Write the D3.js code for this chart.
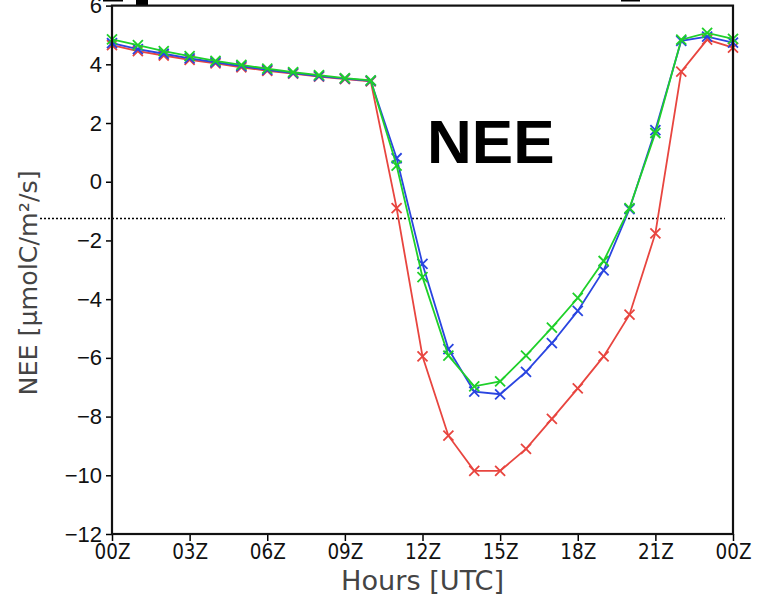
<!DOCTYPE html>
<html>
<head>
<meta charset="utf-8">
<script src="https://cdn.jsdelivr.net/npm/d3@7"></script>
<style>
  body { margin: 0; background: #fff; }
  svg { display: block; }
</style>
</head>
<body>
<div id="chart"></div>
<script>
// hourly values, 00Z .. 00Z next day
var hours = d3.range(0, 25);
var redVals = [4.65, 4.45, 4.3, 4.15, 4.03, 3.9, 3.78, 3.68, 3.58, 3.5, 3.42,
  -0.9, -5.95, -8.65, -9.85, -9.85, -9.1, -8.08, -7.04, -5.95, -4.53, -1.76, 3.75, 4.84, 4.57];
var blueVals = [4.72, 4.52, 4.36, 4.2, 4.07, 3.94, 3.81, 3.7, 3.6, 3.51, 3.44,
  0.8, -2.8, -5.7, -7.15, -7.24, -6.48, -5.5, -4.4, -3.02, -0.93, 1.76, 4.8, 4.94, 4.74];
var greenVals = [4.85, 4.65, 4.45, 4.28, 4.12, 3.98, 3.85, 3.73, 3.63, 3.53, 3.45,
  0.55, -3.25, -5.92, -6.97, -6.8, -5.92, -4.97, -3.96, -2.7, -0.9, 1.66, 4.84, 5.07, 4.87];
var threshold = -1.25;
var xTicks = [0, 3, 6, 9, 12, 15, 18, 21, 24];
var xTickLabels = ["00Z", "03Z", "06Z", "09Z", "12Z", "15Z", "18Z", "21Z", "00Z"];
var yTicks = [-12, -10, -8, -6, -4, -2, 0, 2, 4, 6];

var series = [
  {name: "red", values: redVals, color: "#e8453f"},
  {name: "blue", values: blueVals, color: "#2a45e0"},
  {name: "green", values: greenVals, color: "#1fd02a"}
];

var W = 761, H = 606;
var margin = {top: 5.6, right: 28, bottom: 72, left: 112};
var width = 733 - margin.left,
    height = 534 - margin.top;

var condensed = "'DejaVu Sans Condensed', 'DejaVu Sans', sans-serif";

var svg = d3.select("#chart").append("svg")
    .attr("width", W)
    .attr("height", H);

// clipped bits of the panel above
svg.append("rect").attr("x", 103).attr("y", 0).attr("width", 20).attr("height", 1.5).attr("fill", "#000");
svg.append("rect").attr("x", 136).attr("y", 0).attr("width", 12).attr("height", 6).attr("fill", "#000");
svg.append("rect").attr("x", 621).attr("y", 0).attr("width", 19).attr("height", 1.5).attr("fill", "#000");

var g = svg.append("g")
    .attr("transform", "translate(" + margin.left + "," + margin.top + ")");

var x = d3.scaleLinear().domain([0, 24]).range([0, width]);
var y = d3.scaleLinear().domain([-12, 6]).range([height, 0]);

// dotted reference line
g.append("line")
    .attr("x1", -72).attr("x2", width - 8)
    .attr("y1", y(threshold)).attr("y2", y(threshold))
    .attr("stroke", "#000")
    .attr("stroke-width", 1.6)
    .attr("stroke-dasharray", "2,2");

// axes
var yAxis = g.append("g")
    .call(d3.axisLeft(y).tickValues(yTicks).tickSize(6).tickPadding(4)
      .tickFormat(function(d){ return d < 0 ? "\u2212" + Math.abs(d) : d; }));
yAxis.select(".domain").remove();
yAxis.selectAll("line").attr("stroke-width", 1.5);
yAxis.selectAll("text")
    .attr("font-family", "Liberation Sans, Arial, sans-serif")
    .attr("font-size", "22px")
    .attr("fill", "#111");

var xAxis = g.append("g")
    .attr("transform", "translate(0," + height + ")")
    .call(d3.axisBottom(x).tickValues(xTicks).tickSize(7).tickPadding(2)
      .tickFormat(function(d, i){ return xTickLabels[i]; }));
xAxis.select(".domain").remove();
xAxis.selectAll("line").attr("stroke-width", 1.5);
xAxis.selectAll("text")
    .style("font-family", condensed)
    .style("font-stretch", "condensed")
    .attr("font-size", "22px")
    .attr("textLength", 36)
    .attr("lengthAdjust", "spacingAndGlyphs")
    .attr("fill", "#111");

// lines + x markers
var line = d3.line()
    .x(function(d, i){ return x(hours[i]); })
    .y(function(d){ return y(d); });

var ms = 5;
series.forEach(function(s) {
  g.append("path")
      .datum(s.values)
      .attr("fill", "none")
      .attr("stroke", s.color)
      .attr("stroke-width", 1.8)
      .attr("d", line);

  g.selectAll(".m-" + s.name)
    .data(s.values)
    .enter()
    .append("path")
      .attr("class", "m-" + s.name)
      .attr("d", function(d, i) {
        var cx = x(hours[i]), cy = y(d);
        return "M" + (cx - ms) + "," + (cy - ms) + "L" + (cx + ms) + "," + (cy + ms) +
               "M" + (cx - ms) + "," + (cy + ms) + "L" + (cx + ms) + "," + (cy - ms);
      })
      .attr("stroke", s.color)
      .attr("stroke-width", 1.8)
      .attr("fill", "none");
});

// frame
g.append("rect")
    .attr("x", 0).attr("y", 0)
    .attr("width", width).attr("height", height)
    .attr("fill", "none")
    .attr("stroke", "#111")
    .attr("stroke-width", 2.2);

// panel title
g.append("text")
    .attr("x", 427 - margin.left)
    .attr("y", 163 - margin.top)
    .text("NEE")
    .attr("font-family", "Liberation Sans, Arial, sans-serif")
    .attr("font-weight", "bold")
    .attr("font-size", "62px")
    .attr("fill", "#000");

// axis titles
svg.append("text")
    .attr("x", margin.left + width / 2)
    .attr("y", 590)
    .attr("text-anchor", "middle")
    .text("Hours [UTC]")
    .style("font-family", condensed)
    .style("font-stretch", "condensed")
    .attr("font-size", "26px")
    .attr("textLength", 163)
    .attr("lengthAdjust", "spacingAndGlyphs")
    .attr("fill", "#444");

svg.append("text")
    .attr("transform", "translate(37,283) rotate(-90)")
    .attr("text-anchor", "middle")
    .style("font-family", condensed)
    .style("font-stretch", "condensed")
    .attr("font-size", "25px")
    .attr("textLength", 225)
    .attr("lengthAdjust", "spacingAndGlyphs")
    .attr("fill", "#444")
    .text("NEE [\u03bcmolC/m\u00b2/s]");
</script>
</body>
</html>
